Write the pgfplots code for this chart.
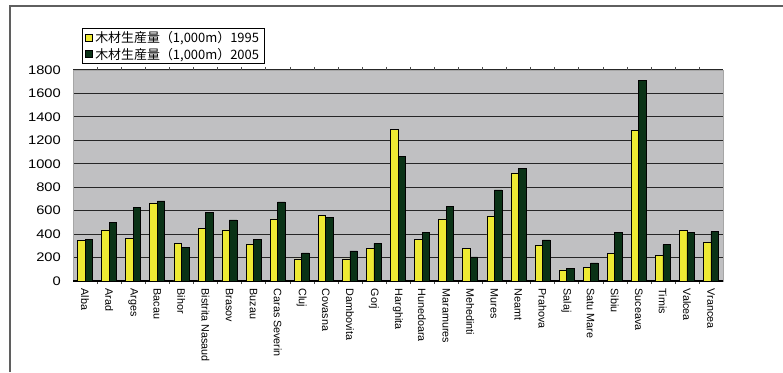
\documentclass[border=0pt]{standalone}
\usepackage{pgfplots}
\pgfplotsset{compat=1.18}
\usepackage{graphicx}
\usepackage{fontspec}
\setmainfont{Liberation Sans}
\newfontfamily\cjk{Noto Sans CJK JP}
\definecolor{barY}{RGB}{238,234,51}
\definecolor{barG}{RGB}{10,50,22}
\definecolor{plotbg}{RGB}{192,192,194}
\definecolor{framec}{RGB}{95,95,95}
\begin{document}
\begin{tikzpicture}[x=1bp,y=1bp]
\path[use as bounding box] (0,0) rectangle (783,372);
\draw[framec, line width=1.3bp] (10,0) -- (10,366) -- (783,366);
\begin{axis}[
  at={(73bp,91bp)}, anchor=south west,
  scale only axis, width=650bp, height=211bp,
  ybar=0pt, bar width=7.5bp,
  xmin=-0.5, xmax=26.5, ymin=0, ymax=1800,
  xtick=data,
  xticklabels={Alba,Arad,Arges,Bacau,Bihor,Bistrita Nasaud,Brasov,Buzau,Caras Severin,Cluj,Covasna,Dambovita,Gorj,Harghita,Hunedoara,Maramures,Mehedinti,Mures,Neamt,Prahova,Salaj,Satu Mare,Sibiu,Suceava,Timis,Valcea,Vrancea},
  minor x tick num=1,
  tick align=outside,
  major tick length=0pt,
  minor tick length=3bp,
  minor tick style={black!70},
  ytick={0,200,...,1800},
  ymajorgrids,
  grid style={black!85, line width=1.1bp},
  extra y ticks={0},
  extra y tick labels={},
  extra y tick style={grid style={black, line width=1.4bp}},
  axis line style={black!35, line width=0.8bp},
  axis background/.style={fill=plotbg},
  /pgf/number format/assume math mode=true,
  /pgf/number format/set thousands separator={},
  yticklabel={\scalebox{1.18}[1]{\pgfmathprintnumber[assume math mode=true,set thousands separator={}]{\tick}}},
  yticklabel style={font=\fontsize{12.5}{14}\selectfont, anchor=east, inner sep=0pt, xshift=-12bp},
  xticklabel style={font=\fontsize{10.8}{12}\selectfont, rotate=-90, anchor=west, inner sep=0pt, xshift=-1.5bp},
  xticklabel shift=9bp,
  legend style={at={(0.0138,1.199)}, anchor=north west, draw=black, line width=1bp,
    font=\cjk\fontsize{13}{14}\selectfont, inner xsep=3bp, inner ysep=1bp, row sep=0pt,
    legend cell align=left},
  legend image code/.code={\draw[#1, line width=0.8bp] (0bp,-3.5bp) rectangle (7bp,3.5bp);},
]
\addplot[fill=barY, draw=black, line width=0.6bp] coordinates {
(0,348) (1,436) (2,362) (3,667) (4,322) (5,448) (6,436) (7,316) (8,530) (9,188)
(10,561) (11,188) (12,279) (13,1294) (14,356) (15,530) (16,279) (17,556) (18,923) (19,305)
(20,94) (21,117) (22,236) (23,1282) (24,217) (25,432) (26,333)};
\addplot[fill=barG, draw=black, line width=0.6bp] coordinates {
(0,356) (1,502) (2,627) (3,684) (4,288) (5,587) (6,521) (7,356) (8,675) (9,239)
(10,544) (11,256) (12,322) (13,1066) (14,416) (15,636) (16,205) (17,778) (18,963) (19,351)
(20,105) (21,154) (22,415) (23,1712) (24,311) (25,412) (26,422)};
\legend{{木材生産量（1,000m）1995}, {木材生産量（1,000m）2005}}
\end{axis}
\end{tikzpicture}
\end{document}
